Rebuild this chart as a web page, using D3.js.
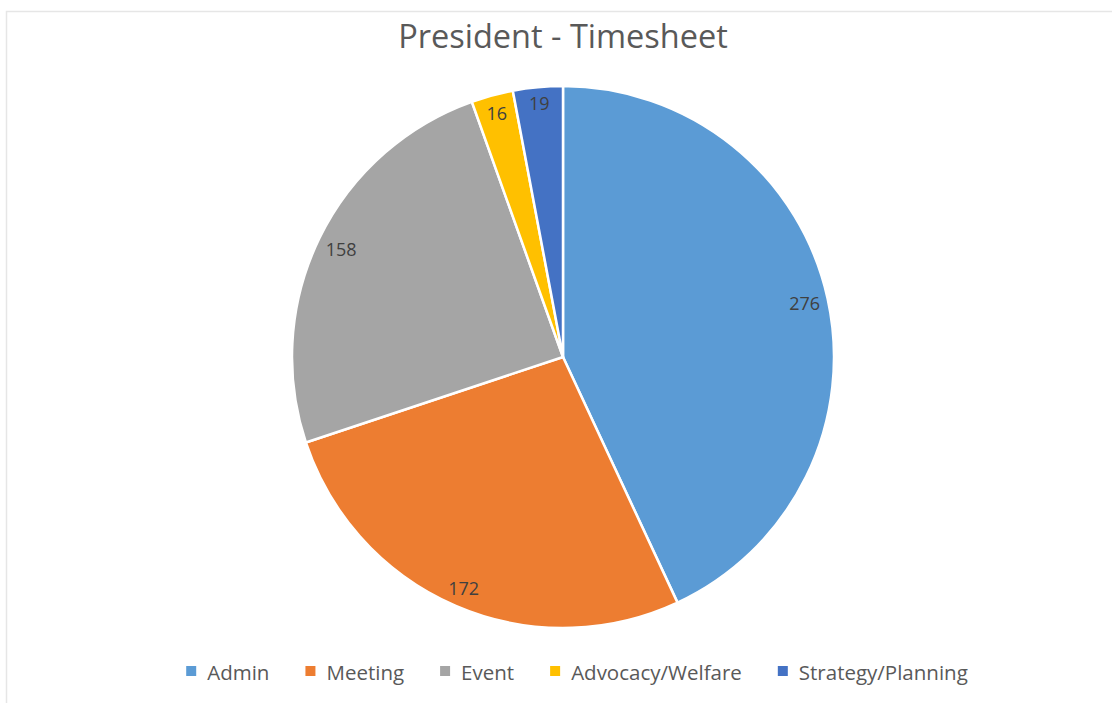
<!DOCTYPE html>
<html>
<head>
<meta charset="utf-8">
<script src="https://cdn.jsdelivr.net/npm/d3@7"></script>
<style>
  body { margin: 0; background: #fff; }
  text { font-family: "Open Sans", "Liberation Sans", sans-serif; }
</style>
</head>
<body>
<svg id="canvas"></svg>
<script>
let categories = ['Admin', 'Meeting', 'Event', 'Advocacy/Welfare', 'Strategy/Planning']
let values = [276, 172, 158, 16, 19]
let colors = ['#5b9bd5', '#ed7d31', '#a5a5a5', '#ffc000', '#4472c4']

let width = 1112
let height = 703
let cx = 563
let cy = 357
let radius = 271

let canvas = d3.select('#canvas')
canvas.attr('width', width)
      .attr('height', height)

// faint chart frame
canvas.append('path')
      .attr('d', `M6.5,${height} V11.5 H${width}`)
      .attr('fill', 'none')
      .attr('stroke', '#e6e6e6')
      .attr('stroke-width', 1.5)

canvas.append('text')
      .attr('x', cx)
      .attr('y', 48)
      .attr('text-anchor', 'middle')
      .attr('font-size', 32.5)
      .attr('fill', '#595959')
      .text('President - Timesheet')

let data = categories.map((c, i) => ({ name: c, value: values[i], color: colors[i] }))

let pie = d3.pie()
    .value(d => d.value)
    .sort(null)

let arc = d3.arc()
    .innerRadius(0)
    .outerRadius(radius)

let g = canvas.append('g')
      .attr('transform', `translate(${cx},${cy})`)

let slices = pie(data)

g.selectAll('path')
  .data(slices)
  .enter()
  .append('path')
  .attr('d', arc)
  .attr('fill', d => d.data.color)
  .attr('stroke', '#fff')
  .attr('stroke-width', 2.5)
  .attr('stroke-linejoin', 'round')

/*labels: inside end*/
g.selectAll('text.lbl')
  .data(slices)
  .enter()
  .append('text')
  .attr('class', 'lbl')
  .attr('font-size', 18)
  .attr('fill', '#404040')
  .attr('text-anchor', 'middle')
  .attr('dominant-baseline', 'central')
  .attr('transform', d => {
    let a = (d.startAngle + d.endAngle) / 2
    let r = radius - 5 - (Math.abs(Math.sin(a)) * 17 + Math.abs(Math.cos(a)) * 9)
    return `translate(${r * Math.sin(a)},${-r * Math.cos(a)})`
  })
  .text(d => d.data.value)

/*legend*/
let legend = canvas.append('g')
let lx = 0
let items = legend.selectAll('g')
  .data(data)
  .enter()
  .append('g')

items.append('rect')
  .attr('width', 10)
  .attr('height', 10)
  .attr('y', -6)
  .attr('fill', d => d.color)

items.append('text')
  .attr('x', 21)
  .attr('font-size', 20.5)
  .attr('fill', '#595959')
  .attr('dominant-baseline', 'central')
  .text(d => d.name)

items.each(function () {
  let w = this.getBBox().width
  d3.select(this).attr('transform', `translate(${lx},0)`)
  lx += w + 36
})
lx -= 36
legend.attr('transform', `translate(${577 - lx / 2},672)`)
</script>
</body>
</html>
